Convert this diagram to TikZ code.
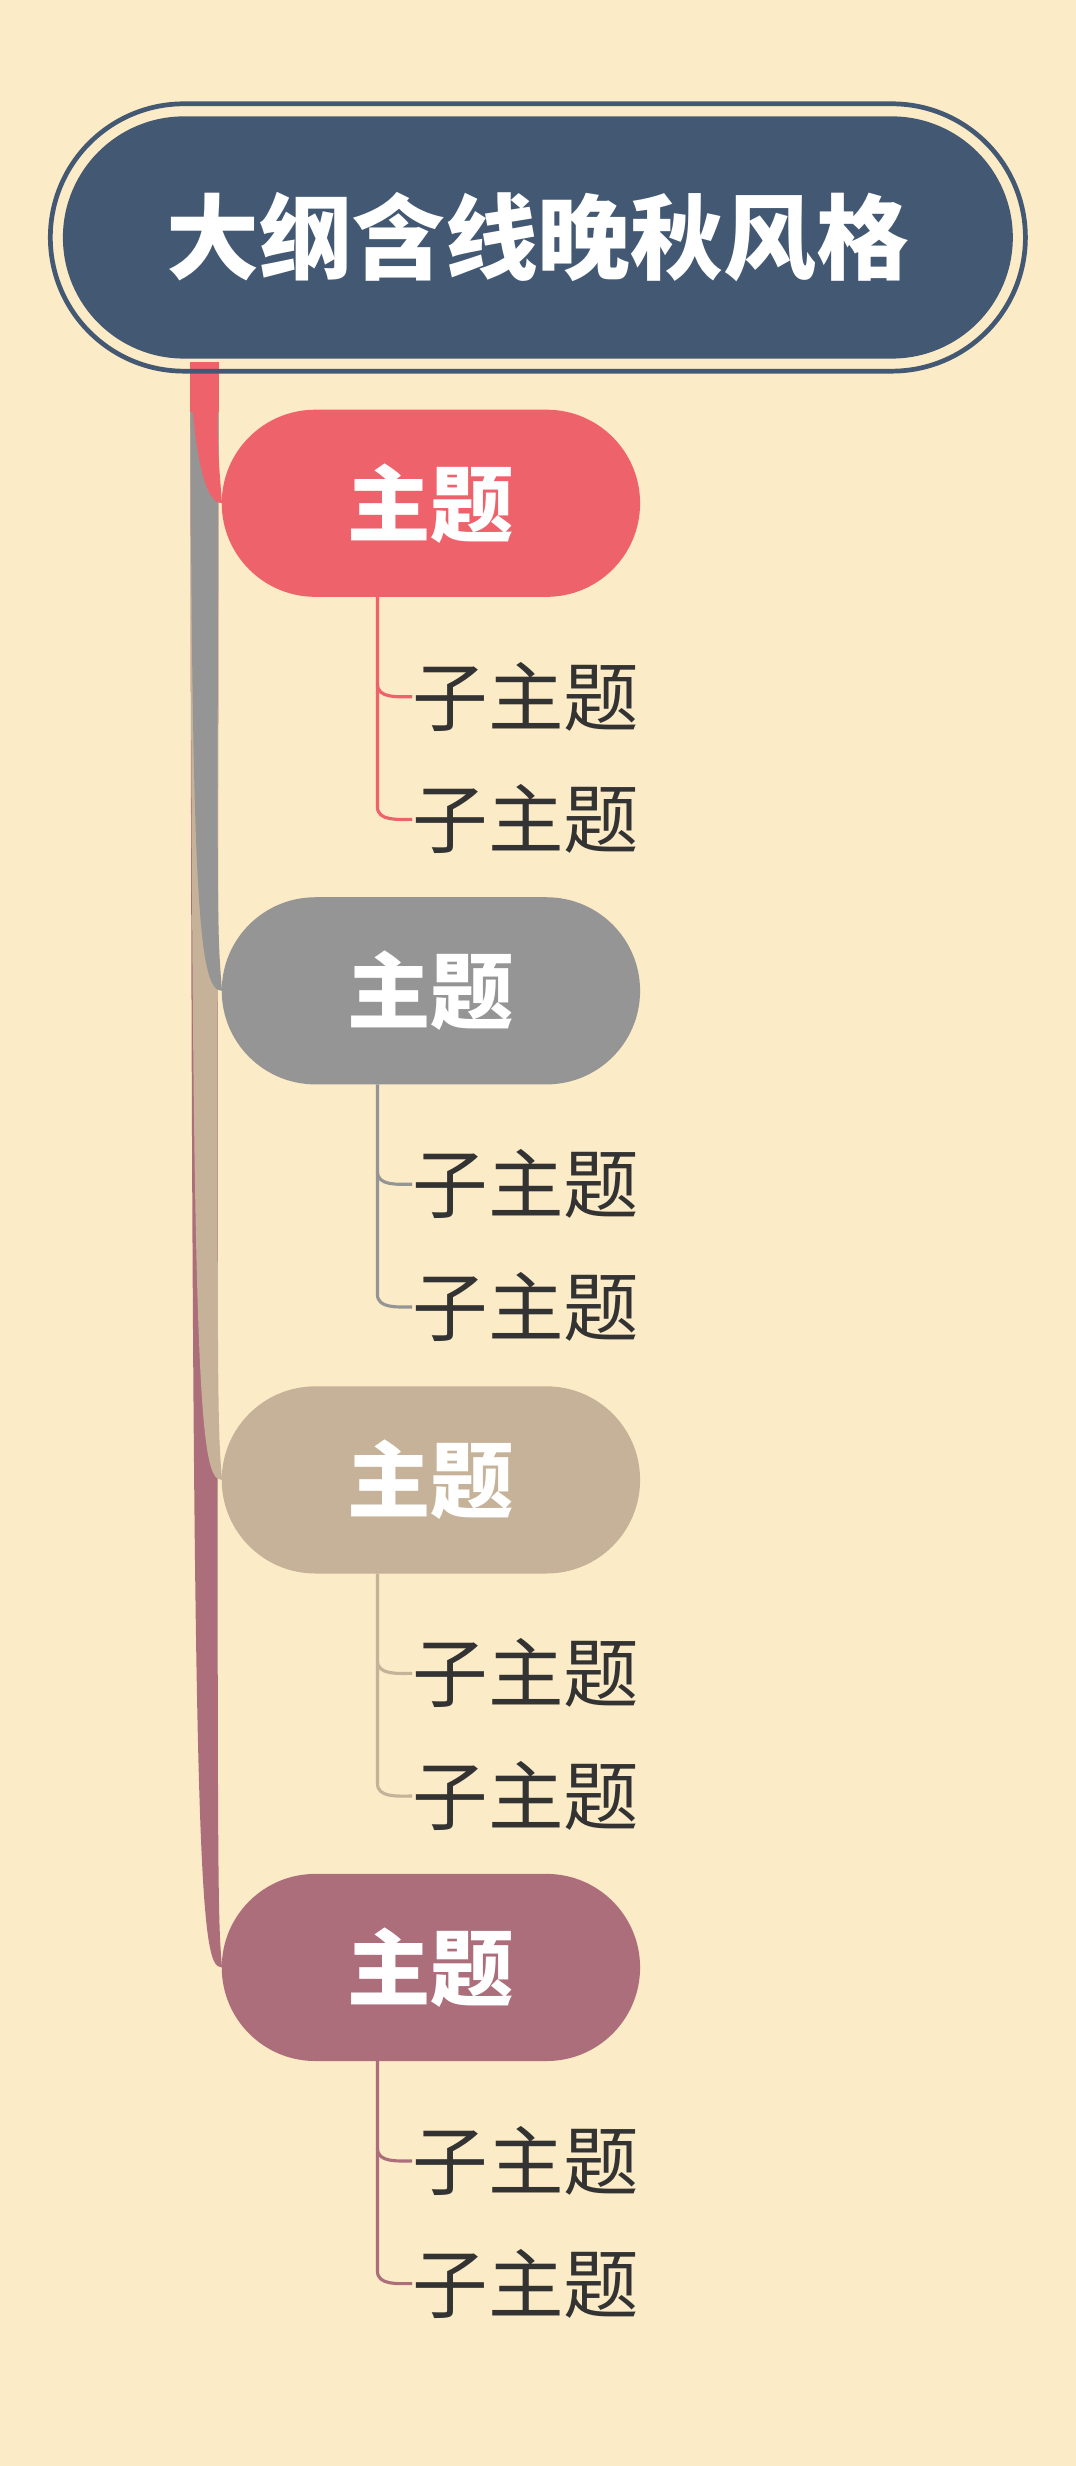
\documentclass[tikz,border=0pt]{standalone}
\usepackage{fontspec}
\newfontfamily\cjk{Noto Sans CJK SC}
\definecolor{bg}{HTML}{FBEBC6}
\definecolor{navy}{HTML}{435873}
\definecolor{cA}{HTML}{EE636B}
\definecolor{cB}{HTML}{959595}
\definecolor{cC}{HTML}{C6B298}
\definecolor{cD}{HTML}{AD6E7B}
\definecolor{txt}{HTML}{333333}
\begin{document}
\begin{tikzpicture}[x=0.5pt,y=-0.5pt,
  topic/.style={rounded corners=29.75pt,minimum width=133pt,minimum height=59.5pt,inner sep=0pt,text=white,font=\cjk\bfseries\fontsize{26.5}{30}\selectfont},
  sub/.style={anchor=west,inner sep=0pt,text=txt,font=\cjk\fontsize{24}{28}\selectfont},
  subline/.style={line width=1pt}]
\fill[bg] (0,0) rectangle (684,1568);
\useasboundingbox (0,0) rectangle (684,1568);
% branches
\foreach \c/\col in {1251/cD,941/cC,630/cB,320/cA}{
  \fill[\col] (121,236) .. controls (122,\c-60) and (126,\c) .. (141,\c) -- (141,\c-2) .. controls (138,\c-40) .. (139,236) -- cycle;
}
\fill[cA] (121,230) rectangle (139,262);
% title
\draw[navy,line width=1.5pt,rounded corners=42.5pt] (32,66) rectangle (652,236);
\node[fill=navy,rounded corners=38.5pt,minimum width=302pt,minimum height=77pt,inner sep=0pt,text=white,font=\cjk\bfseries\fontsize{29.5}{33}\selectfont] (title) at (342,151) {大纲含线晚秋风格};
\foreach \i/\c/\col in {1/320/cA,2/630/cB,3/941/cC,4/1251/cD}{
  \node[topic,fill=\col] (t\i) at (274,\c) {主题};
  \node[sub] (s\i a) at (262,\c+123) {子主题};
  \node[sub] (s\i b) at (262,\c+201) {子主题};
  \draw[subline,\col] (240,\c+59.5) -- (240,\c+193) to[out=-90,in=180] (s\i b.west);
  \draw[subline,\col] (240,\c+115) to[out=-90,in=180] (s\i a.west);
}
\end{tikzpicture}
\end{document}
